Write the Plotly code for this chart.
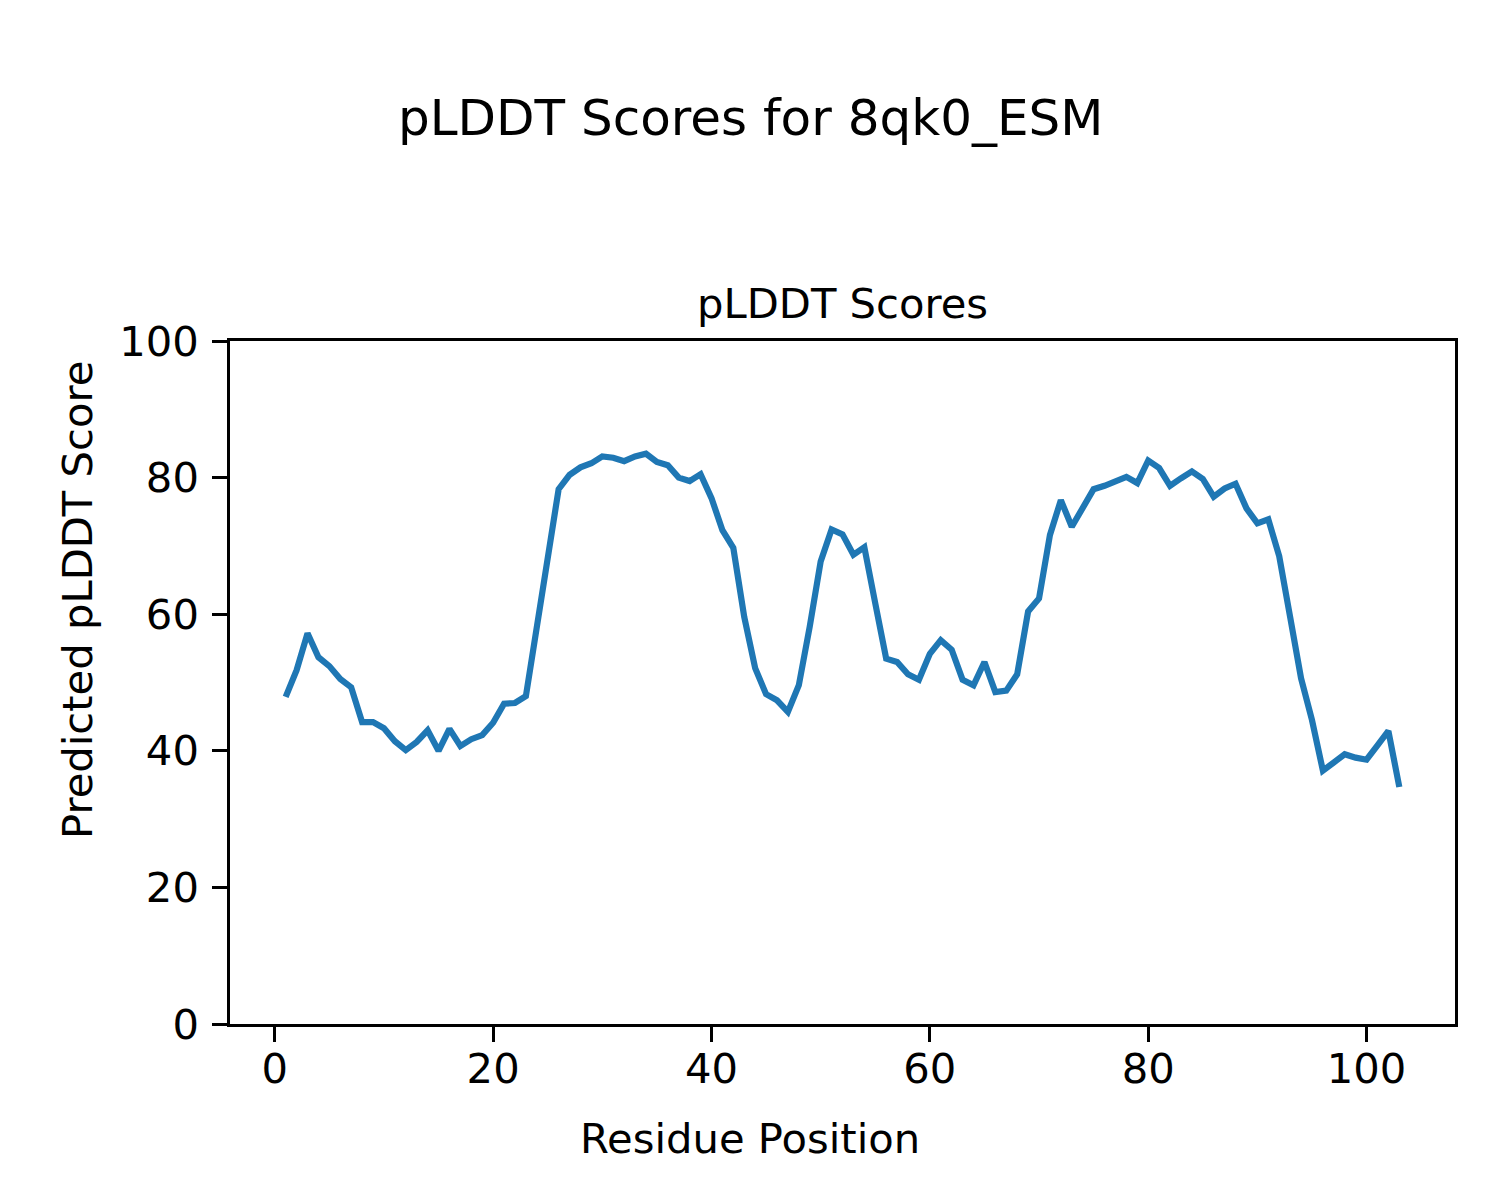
import plotly.graph_objects as go

residues = list(range(1, 104))
plddt = [
    47.9, 51.8, 57.2, 53.7, 52.4, 50.5, 49.3, 44.2, 44.2, 43.3,
    41.4, 40.1, 41.3, 43.0, 40.0, 43.2, 40.7, 41.7, 42.3, 44.1,
    46.9, 47.0, 48.0, 58.1, 68.2, 78.3, 80.4, 81.5, 82.1, 83.1,
    82.9, 82.4, 83.1, 83.5, 82.3, 81.8, 80.0, 79.5, 80.5, 77.0,
    72.3, 69.7, 59.6, 52.1, 48.3, 47.4, 45.7, 49.6, 58.2, 67.7,
    72.4, 71.7, 68.7, 69.8, 61.6, 53.5, 53.0, 51.2, 50.4, 54.2,
    56.2, 54.8, 50.4, 49.6, 53.0, 48.6, 48.8, 51.2, 60.4, 62.3,
    71.6, 76.7, 72.8, 75.4, 78.3, 78.8, 79.4, 80.1, 79.2, 82.5,
    81.4, 78.8, 79.9, 80.9, 79.8, 77.2, 78.4, 79.1, 75.5, 73.3,
    73.9, 68.5, 59.6, 50.6, 44.5, 37.1, 38.3, 39.5, 39.0, 38.7,
    40.8, 42.9, 34.7,
]
x_ticks = [0, 20, 40, 60, 80, 100]
y_ticks = [0, 20, 40, 60, 80, 100]

suptitle = "pLDDT Scores for 8qk0_ESM"
ax_title = "pLDDT Scores"
x_label = "Residue Position"
y_label = "Predicted pLDDT Score"

W, H = 1500, 1200
OFF = 8  # page offset observed in the rendered screenshot
L, R, T, B = 230 - OFF, 1455 - OFF, 341 - OFF, 1024 - OFF
pw, ph = R - L, B - T

def px(x):
    return (x - OFF - L) / pw

def py(y):
    return (B - (y - OFF)) / ph

FONT = "DejaVu Sans"
fig = go.Figure()
fig.add_trace(go.Scatter(x=residues, y=plddt, mode="lines",
                         line=dict(color="#1f77b4", width=6.2),
                         showlegend=False))

axis_common = dict(showgrid=False, zeroline=False, showline=True, mirror=True,
                   linecolor="black", linewidth=3.3, ticks="outside",
                   ticklen=14.6, tickwidth=3.3, tickcolor="black",
                   tickfont=dict(family=FONT, size=41.7, color="black"))

fig.update_xaxes(range=[-4.1, 108.1], tickvals=x_ticks, ticklabelstandoff=-9, **axis_common)
fig.update_yaxes(range=[0, 100], tickvals=y_ticks, ticklabelstandoff=5, **axis_common)

annos = [
    dict(text=suptitle, x=px(750), y=py(118), size=50),
    dict(text=ax_title, x=px(842.5), y=py(303), size=41.7),
    dict(text=x_label, x=px(750), y=py(1138), size=41.7),
]
for a in annos:
    fig.add_annotation(text=a["text"], x=a["x"], y=a["y"], xref="paper", yref="paper",
                       xanchor="center", yanchor="middle", showarrow=False,
                       font=dict(family=FONT, size=a["size"], color="black"))
fig.add_annotation(text=y_label, x=px(77), y=py(600), xref="paper", yref="paper",
                   xanchor="center", yanchor="middle", showarrow=False, textangle=-90,
                   font=dict(family=FONT, size=41.7, color="black"))

fig.update_layout(width=W, height=H, paper_bgcolor="white", plot_bgcolor="white",
                  margin=dict(l=L, r=W - R, t=T, b=H - B, autoexpand=False))

fig.write_html("out.html")
